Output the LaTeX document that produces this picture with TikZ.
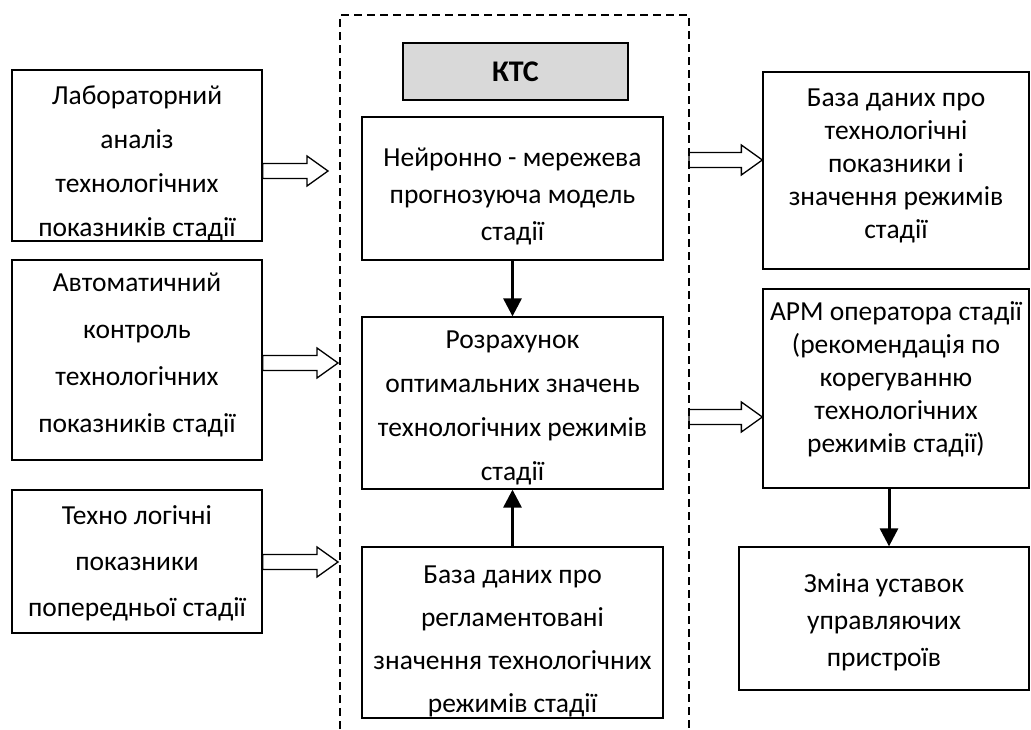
\documentclass[tikz,border=0pt]{standalone}
\usepackage{fontspec}
\setmainfont{Carlito}
\usetikzlibrary{arrows.meta,calc}
\newcommand\boxfont[1]{\fontsize{27.5}{#1}\selectfont}
% invisible struts that fix where the lines sit in a box
\newcommand\topgap[1]{\rule{0pt}{#1pt}}
\newcommand\botgap[1]{\rule[-#1pt]{0pt}{#1pt}}

\begin{document}
\begin{tikzpicture}[x=1pt, y=-1pt,
  blk/.style={draw, line width=1.3pt, align=center, inner sep=0pt},
  frame/.style={line width=2pt, dash pattern=on 8pt off 5pt},
  fatarrow/.style={line width=1.3pt, to path={let \p1=(\tikztostart), \p2=(\tikztotarget) in
    (\x1,\y1+7.5pt) -- (\x2-21pt,\y1+7.5pt) -- (\x2-21pt,\y1+15pt) -- (\x2,\y1)
    -- (\x2-21pt,\y1-15pt) -- (\x2-21pt,\y1-7.5pt) -- (\x1,\y1-7.5pt) -- cycle}},
  flow/.style={line width=3pt, -{Triangle[length=18pt,width=18pt]}}]
  \useasboundingbox (0,0) rectangle (1031,729);

  % dashed frame of the complex (open at the bottom)
  \draw[frame] (340,729) -- (340,15) -- (689,15) -- (689,729);

  % inputs
  \node[blk, minimum width=250pt, minimum height=171pt, font=\boxfont{44}] (lab) at (137,155.5)
    {\topgap{34}Лабораторний\\аналіз\\технологічних\\показників стадії\botgap{5}};
  \node[blk, minimum width=250pt, minimum height=200pt, font=\boxfont{47}] (auto) at (137,360)
    {\topgap{25}Автоматичний\\контроль\\технологічних\\показників стадії\botgap{22}};
  \node[blk, minimum width=250pt, minimum height=143pt, font=\boxfont{46}] (prev) at (137,561.5)
    {\topgap{28}Техно логічні\\показники\\попередньої стадії\botgap{10}};

  % inside the complex
  \node[blk, fill=gray!30, minimum width=225pt, minimum height=57pt, font=\fontsize{30}{36}\selectfont\bfseries] (kts) at (515.5,71.5) {КТС};
  \node[blk, minimum width=301pt, minimum height=143pt, font=\boxfont{37}] (nn) at (512.5,188.5)
    {\topgap{40}Нейронно - мережева\\прогнозуюча модель\\стадії\botgap{10}};
  \node[blk, minimum width=301pt, minimum height=172pt, font=\boxfont{44}] (calc) at (512.5,403)
    {\topgap{31}Розрахунок\\оптимальних значень\\технологічних режимів\\стадії\botgap{8}};
  \node[blk, minimum width=301pt, minimum height=171pt, font=\boxfont{43}] (reg) at (512.5,632.5)
    {\topgap{36}База даних про\\регламентовані\\значення технологічних\\режимів стадії\botgap{5}};

  % outputs
  \node[blk, minimum width=266pt, minimum height=197pt, font=\boxfont{33}] (base) at (896,170.5)
    {\topgap{25}База даних про\\технологічні\\показники і\\значення режимів\\стадії\botgap{21}};
  \node[blk, minimum width=266pt, minimum height=199pt, font=\boxfont{33}] (arm) at (896,388.5)
    {\topgap{25}АРМ оператора стадії\\(рекомендація по\\корегуванню\\технологічних\\режимів стадії)\botgap{30}};
  \node[blk, minimum width=290pt, minimum height=143pt, font=\boxfont{37}] (set) at (884,618.5)
    {\topgap{31}Зміна уставок\\управляючих\\пристроїв\botgap{10}};

  \coordinate (inA) at (328,171);
  \coordinate (inB) at (338,363);
  \coordinate (inC) at (338,562);
  \coordinate (outA) at (689,160);
  \coordinate (outB) at (689,417);

  \draw[fatarrow] (lab.east |- inA) to (inA);
  \draw[fatarrow] (auto.east |- inB) to (inB);
  \draw[fatarrow] (prev.east |- inC) to (inC);
  \draw[fatarrow] (outA) to (base.west |- outA);
  \draw[fatarrow] (outB) to (arm.west |- outB);

  \draw[flow] (nn.south) -- (calc.north);
  \draw[flow] (reg.north) -- (calc.south);
  \draw[flow] ([xshift=-7pt]arm.south) -- ([xshift=5pt]set.north);
\end{tikzpicture}
\end{document}
